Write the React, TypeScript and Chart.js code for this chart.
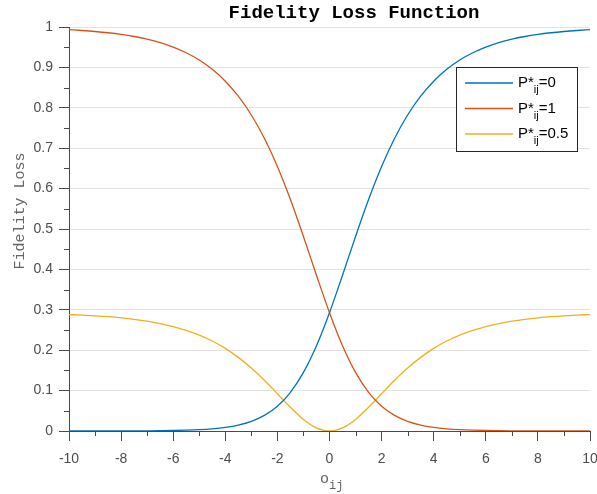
import React, { useEffect, useRef } from "react";
import { Chart, registerables } from "chart.js";

Chart.register(...registerables);

const oValues = [
  -10, -9.5, -9, -8.5, -8, -7.5, -7, -6.5, -6, -5.5, -5, -4.5, -4, -3.5, -3, -2.5, -2, -1.5, -1, -0.5,
  0, 0.5, 1, 1.5, 2, 2.5, 3, 3.5, 4, 4.5, 5, 5.5, 6, 6.5, 7, 7.5, 8, 8.5, 9, 9.5, 10,
];

const lossP0 = [
  0.00002, 0.00004, 0.00006, 0.0001, 0.00017, 0.00028, 0.00046, 0.00075, 0.00124, 0.00204, 0.00335,
  0.00551, 0.00904, 0.01476, 0.024, 0.03868, 0.06149, 0.0958, 0.14498, 0.21104, 0.29289, 0.38555,
  0.4814, 0.57289, 0.65474, 0.72458, 0.78223, 0.82879, 0.86589, 0.89518, 0.91819, 0.9362, 0.95027,
  0.96126, 0.96982, 0.97649, 0.98169, 0.98574, 0.98889, 0.99135, 0.99326,
];

const lossP1 = [
  0.99326, 0.99135, 0.98889, 0.98574, 0.98169, 0.97649, 0.96982, 0.96126, 0.95027, 0.9362, 0.91819,
  0.89518, 0.86589, 0.82879, 0.78223, 0.72458, 0.65474, 0.57289, 0.4814, 0.38555, 0.29289, 0.21104,
  0.14498, 0.0958, 0.06149, 0.03868, 0.024, 0.01476, 0.00904, 0.00551, 0.00335, 0.00204, 0.00124,
  0.00075, 0.00046, 0.00028, 0.00017, 0.0001, 0.00006, 0.00004, 0.00002,
];

const lossPHalf = [
  0.28814, 0.2868, 0.28508, 0.28288, 0.28006, 0.27646, 0.27188, 0.26603, 0.2586, 0.24922, 0.23741,
  0.22267, 0.20445, 0.18227, 0.15588, 0.12549, 0.09224, 0.05862, 0.0287, 0.00764, 0, 0.00764, 0.0287,
  0.05862, 0.09224, 0.12549, 0.15588, 0.18227, 0.20445, 0.22267, 0.23741, 0.24922, 0.2586, 0.26603,
  0.27188, 0.27646, 0.28006, 0.28288, 0.28508, 0.2868, 0.28814,
];

const seriesLabels = ["0", "1", "0.5"];
const seriesColors = ["#0072BD", "#D95319", "#EDB120"];
const seriesValues = [lossP0, lossP1, lossPHalf];

const titleText = "Fidelity Loss Function";
const yTitle = "Fidelity Loss";
const xTitleMain = "o";
const xTitleSub = "ij";

const AXIS = "#4a4a4a";
const LABEL = "#4d4d4d";
const GRID = "#e3e3e3";
const SANS = "'Liberation Sans', Arial, Helvetica, sans-serif";
const MONO = "'Liberation Mono', 'Courier New', monospace";

const decorPlugin = {
  id: "decor",
  afterDraw(chart: any) {
    const ctx = chart.ctx;
    const xs = chart.scales.x;
    const ys = chart.scales.y;
    const area = chart.chartArea;
    ctx.save();
    // minor ticks
    ctx.strokeStyle = AXIS;
    ctx.lineWidth = 1;
    ctx.beginPath();
    for (let v = -9; v <= 9; v += 2) {
      const px = Math.round(xs.getPixelForValue(v)) + 0.5;
      ctx.moveTo(px, area.bottom);
      ctx.lineTo(px, area.bottom + 5);
    }
    for (let i = 0; i < 10; i++) {
      const v = 0.05 + i * 0.1;
      const py = Math.round(ys.getPixelForValue(v)) + 0.5;
      ctx.moveTo(area.left - 5, py);
      ctx.lineTo(area.left, py);
    }
    ctx.stroke();

    // title
    ctx.fillStyle = "#000";
    ctx.font = `bold 19px ${MONO}`;
    ctx.textAlign = "center";
    ctx.textBaseline = "middle";
    ctx.fillText(titleText, 354, 13);

    // y title
    ctx.save();
    ctx.translate(20, 211);
    ctx.rotate(-Math.PI / 2);
    ctx.fillStyle = "#666";
    ctx.font = `15px ${MONO}`;
    ctx.textAlign = "center";
    ctx.textBaseline = "middle";
    ctx.fillText(yTitle, 0, 0);
    ctx.restore();

    // x title
    ctx.fillStyle = "#666";
    ctx.textAlign = "left";
    ctx.textBaseline = "alphabetic";
    ctx.font = `15px ${MONO}`;
    ctx.fillText(xTitleMain, 320, 483);
    const ow = ctx.measureText(xTitleMain).width;
    ctx.font = `12px ${MONO}`;
    ctx.fillText(xTitleSub, 320 + ow, 489);

    // legend
    const bx = 456.5, by = 67.5, bw = 121, bh = 84;
    ctx.fillStyle = "#fff";
    ctx.fillRect(bx, by, bw, bh);
    ctx.strokeStyle = "#262626";
    ctx.lineWidth = 1;
    ctx.strokeRect(bx, by, bw, bh);
    const rows = [83, 108.5, 134];
    for (let i = 0; i < 3; i++) {
      const y = rows[i];
      ctx.strokeStyle = seriesColors[i];
      ctx.lineWidth = 1.3;
      ctx.beginPath();
      ctx.moveTo(465, y);
      ctx.lineTo(513, y);
      ctx.stroke();
      ctx.fillStyle = "#000";
      ctx.textBaseline = "middle";
      ctx.textAlign = "left";
      ctx.font = `15px ${SANS}`;
      let x = 518;
      ctx.fillText("P*", x, y);
      x += ctx.measureText("P*").width;
      ctx.font = `11px ${SANS}`;
      ctx.fillText("ij", x, y + 7);
      x += ctx.measureText("ij").width;
      ctx.font = `15px ${SANS}`;
      ctx.fillText("=" + seriesLabels[i], x, y);
    }
    ctx.restore();
  },
};

export default function App() {
  const ref = useRef<HTMLCanvasElement | null>(null);
  useEffect(() => {
    if (!ref.current) return;
    const chart = new Chart(ref.current, {
      type: "line",
      data: {
        datasets: seriesValues.map((vals, i) => ({
          label: "P*ij=" + seriesLabels[i],
          data: oValues.map((o, j) => ({ x: o, y: vals[j] })),
          borderColor: seriesColors[i],
          backgroundColor: seriesColors[i],
          borderWidth: 1.3,
          pointRadius: 0,
          cubicInterpolationMode: "monotone" as const,
          fill: false,
        })),
      },
      options: {
        animation: false,
        responsive: false,
        layout: { padding: { top: 27, right: 7, bottom: 0, left: 0 } },
        plugins: {
          legend: { display: false },
          title: { display: false },
          tooltip: { enabled: false },
        },
        scales: {
          x: {
            type: "linear",
            min: -10,
            max: 10,
            ticks: {
              stepSize: 2,
              color: LABEL,
              font: { family: SANS, size: 14 },
              padding: 10,
              maxRotation: 0,
              autoSkip: false,
              callback: (v: any) => String(Math.round(Number(v))),
            },
            grid: {
              drawOnChartArea: false,
              drawTicks: true,
              tickLength: 10,
              tickColor: AXIS,
              tickWidth: 1,
            },
            border: { display: true, color: AXIS, width: 1 },
            afterFit: (s: any) => {
              s.height = 63;
              s.paddingLeft = 0;
              s.paddingRight = 0;
            },
          },
          y: {
            type: "linear",
            min: 0,
            max: 1,
            ticks: {
              stepSize: 0.1,
              color: LABEL,
              font: { family: SANS, size: 14 },
              padding: 6,
              callback: (v: any) => String(Number(Number(v).toFixed(1))),
            },
            grid: {
              color: GRID,
              drawTicks: true,
              tickLength: 10,
              tickColor: AXIS,
              tickWidth: 1,
            },
            border: { display: true, color: AXIS, width: 1 },
            afterFit: (s: any) => {
              s.width = 69;
              s.paddingTop = 0;
              s.paddingBottom = 0;
            },
          },
        },
      },
      plugins: [decorPlugin],
    });
    return () => chart.destroy();
  }, []);
  return (
    <div style={{ position: "absolute", left: 0, top: 0, width: 597, height: 494, background: "#fff" }}>
      <canvas ref={ref} width={597} height={494} style={{ display: "block" }} />
    </div>
  );
}
